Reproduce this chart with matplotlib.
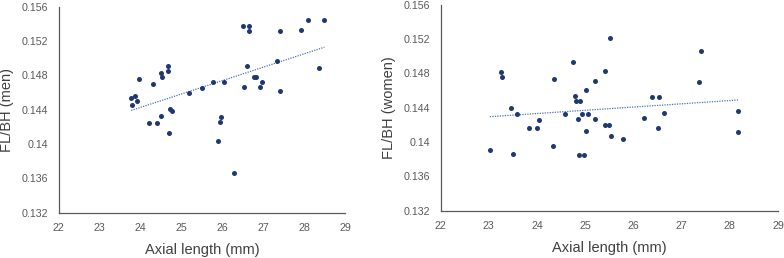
import numpy as np
import matplotlib
matplotlib.use("Agg")
import matplotlib.pyplot as plt

men_al = [23.77, 23.79, 23.86, 23.91, 23.96, 24.20, 24.31, 24.40, 24.49, 24.50,
          24.53, 24.66, 24.67, 24.69, 24.72, 24.76, 25.18, 25.50, 25.76, 25.90,
          25.95, 25.96, 26.03, 26.27, 26.50, 26.53, 26.59, 26.64, 26.65, 26.76,
          26.82, 26.91, 26.97, 27.33, 27.41, 27.40, 27.92, 28.10, 28.35, 28.49]
men_ratio = [0.14532, 0.14458, 0.14563, 0.14505, 0.14757, 0.14245, 0.14699, 0.14245, 0.14330, 0.14831,
             0.14777, 0.14905, 0.14847, 0.14124, 0.14412, 0.14388, 0.14598, 0.14653, 0.14719, 0.14039,
             0.14256, 0.14315, 0.14719, 0.13659, 0.15375, 0.14668, 0.14913, 0.15313, 0.15375, 0.14785,
             0.14785, 0.14668, 0.14726, 0.14967, 0.15320, 0.14621, 0.15332, 0.15441, 0.14882, 0.15449]

women_al = [23.02, 23.25, 23.27, 23.46, 23.51, 23.59, 23.83, 23.99, 24.04, 24.33,
            24.35, 24.59, 24.75, 24.79, 24.81, 24.86, 24.88, 24.90, 24.93, 24.97,
            25.02, 25.02, 25.05, 25.21, 25.21, 25.40, 25.41, 25.49, 25.51, 25.53,
            25.78, 26.21, 26.38, 26.50, 26.54, 26.63, 27.37, 27.41, 28.18, 28.18]
women_ratio = [0.13907, 0.14820, 0.14754, 0.14392, 0.13857, 0.14326, 0.14163, 0.14163, 0.14253, 0.13950,
               0.14734, 0.14330, 0.14936, 0.14540, 0.14474, 0.14272, 0.13853, 0.14482, 0.14326, 0.13853,
               0.14602, 0.14128, 0.14326, 0.14715, 0.14264, 0.14827, 0.14198, 0.14198, 0.15212, 0.14070,
               0.14039, 0.14280, 0.14524, 0.14163, 0.14524, 0.14334, 0.14699, 0.15060, 0.14365, 0.14120]

x_ticks = [22, 23, 24, 25, 26, 27, 28, 29]
y_ticks = [0.132, 0.136, 0.14, 0.144, 0.148, 0.152, 0.156]
y_tick_labels = ["0.132", "0.136", "0.14", "0.144", "0.148", "0.152", "0.156"]

plt.rcParams['font.family'] = ['Liberation Sans', 'DejaVu Sans']

fig = plt.figure(figsize=(7.84, 2.58), dpi=100)
ax1 = fig.add_axes([0.0749, 0.1756, 0.3655, 0.7984])
ax2 = fig.add_axes([0.5621, 0.1833, 0.4302, 0.7985])

dot_color = "#1f3871"
trend_color = "#4a72b8"
axis_color = "#595959"

def draw(ax, xs, ys, ylabel):
    ax.scatter(xs, ys, s=13, color=dot_color, zorder=3, linewidths=0)
    xa = np.array(xs); ya = np.array(ys)
    m, b = np.polyfit(xa, ya, 1)
    xl = np.array([xa.min(), xa.max()])
    ax.plot(xl, m * xl + b, linestyle=(0, (1, 1)), color=trend_color, linewidth=0.9, zorder=2)
    ax.set_xlim(22, 29)
    ax.set_ylim(0.132, 0.156)
    ax.set_xticks(x_ticks)
    ax.set_yticks(y_ticks)
    ax.set_yticklabels(y_tick_labels)
    ax.tick_params(length=0, labelsize=7.7, colors="#595959")
    ax.tick_params(axis="y", pad=7.8)
    ax.tick_params(axis="x", pad=7.5)
    for s in ["top", "right"]:
        ax.spines[s].set_visible(False)
    for s in ["left", "bottom"]:
        ax.spines[s].set_color(axis_color)
        ax.spines[s].set_linewidth(0.9)
    ax.set_xlabel("Axial length (mm)", fontsize=10.5, color="#404040", labelpad=7)
    ax.set_ylabel(ylabel, fontsize=10.5, color="#404040", labelpad=5)

draw(ax1, men_al, men_ratio, "FL/BH (men)")
draw(ax2, women_al, women_ratio, "FL/BH (women)")

fig.savefig("out.png", dpi=100)
